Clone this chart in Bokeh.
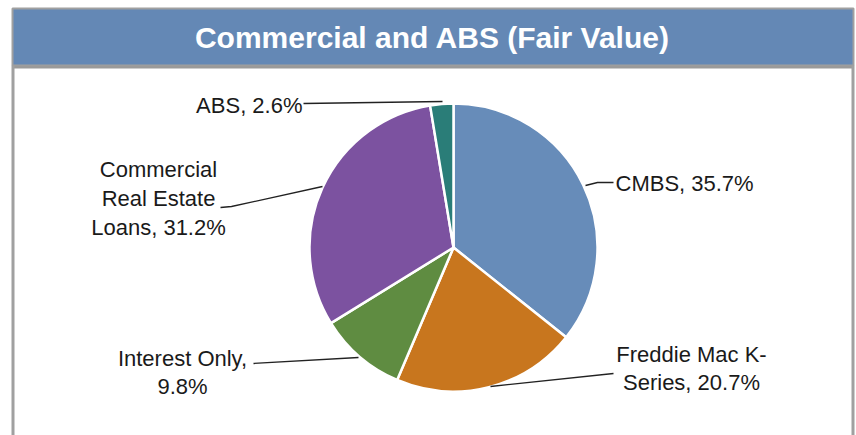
import numpy as np
from bokeh.plotting import figure
from bokeh.models import Range1d, ColumnDataSource
from bokeh.core.properties import value
from bokeh.embed import file_html
from bokeh.resources import INLINE

# ---- data ----
title = "Commercial and ABS (Fair Value)"
categories = ["CMBS", "Freddie Mac K-Series", "Interest Only", "Commercial Real Estate Loans", "ABS"]
shares = [35.7, 20.7, 9.8, 31.2, 2.6]
colors = ["#678cb9", "#c8761e", "#5f8c41", "#7c52a0", "#2a7d78"]
label_texts = ["CMBS, 35.7%", "Freddie Mac K-\nSeries, 20.7%", "Interest Only,\n9.8%",
               "Commercial\nReal Estate\nLoans, 31.2%", "ABS, 2.6%"]

W, H = 856, 435
p = figure(width=W, height=H, output_backend="svg", toolbar_location=None,
           x_range=Range1d(0, W), y_range=Range1d(0, H),
           x_axis_type=None, y_axis_type=None, min_border=0)
p.grid.visible = False
p.outline_line_color = None
p.background_fill_color = "white"
p.border_fill_color = "white"

# screen -> figure coordinates helpers
def fx(X): return X
def fy(Y): return H - Y

# frame / header
p.quad(left=[fx(12)], right=[fx(853)], top=[fy(8)], bottom=[fy(65)],
       fill_color="#6488b5", line_color="#a0a0a0", line_width=2)
p.quad(left=[fx(12)], right=[fx(853)], top=[fy(65)], bottom=[fy(68)],
       fill_color="#9a9a9a", line_color=None)
p.quad(left=[fx(11)], right=[fx(14)], top=[fy(65)], bottom=[0],
       fill_color="#a0a0a0", line_color=None)
p.quad(left=[fx(851)], right=[fx(854)], top=[fy(65)], bottom=[0],
       fill_color="#a0a0a0", line_color=None)
p.text(x=[fx(432)], y=[fy(37)], text=[title], text_color="white",
       text_font=value("Liberation Sans"), text_font_style="bold",
       text_font_size="30px", text_align="center", text_baseline="middle")

# pie
cx, cy, r = fx(453), fy(247), 144
frac = np.array(shares) / np.sum(shares)
cum = np.concatenate([[0], np.cumsum(frac)])
start = np.pi / 2 - cum[:-1] * 2 * np.pi
end = np.pi / 2 - cum[1:] * 2 * np.pi
src = ColumnDataSource(dict(cat=categories, start=start, end=end, color=colors))
p.wedge(x=cx, y=cy, radius=r, start_angle="start", end_angle="end", direction="clock",
        fill_color="color", line_color="white", line_width=2.5, source=src)

# leader lines (screen coords)
leaders = [
    ([585, 597, 613], [185, 182, 182]),
    ([490, 613], [386, 373]),
    ([253, 358], [363, 357]),
    ([220, 231, 322], [207, 206, 186]),
    ([303, 442], [103, 101]),
]
for xs, ys in leaders:
    p.line(x=[fx(v) for v in xs], y=[fy(v) for v in ys], line_color="#222222", line_width=1.3)

# labels
lab_font = value("Liberation Sans")
fs = "22px"
p.text(x=[fx(615)], y=[fy(183)], text=[label_texts[0]], text_font=lab_font, text_font_size=fs,
       text_align="left", text_baseline="alphabetic", text_color="#1a1a1a")
p.text(x=[fx(302)], y=[fy(105)], text=[label_texts[4]], text_font=lab_font, text_font_size=fs,
       text_align="right", text_baseline="alphabetic", text_color="#1a1a1a")
p.text(x=[fx(691), fx(182), fx(158)], y=[fy(368), fy(372), fy(198)],
       text=[label_texts[1], label_texts[2], label_texts[3]],
       text_font=lab_font, text_font_size=fs, text_align="center", text_baseline="middle",
       text_line_height=1.15, text_color="#1a1a1a")

open("out.html", "w").write(file_html(p, INLINE))
